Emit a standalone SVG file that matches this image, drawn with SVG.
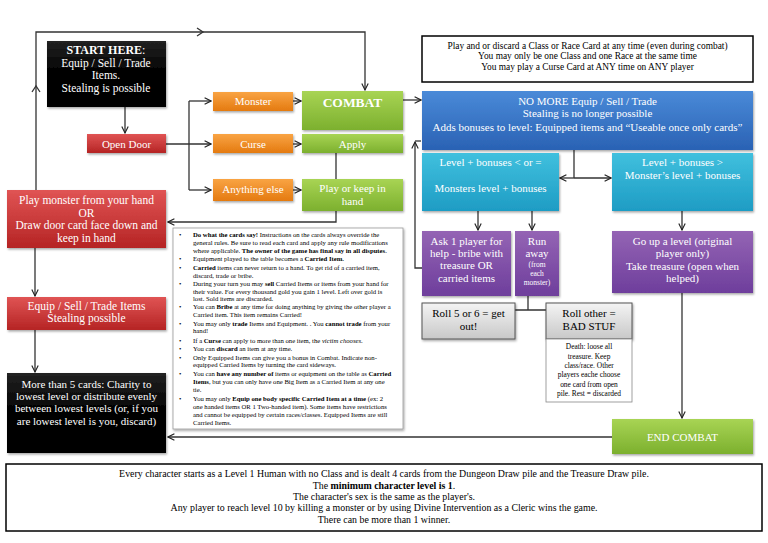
<svg xmlns="http://www.w3.org/2000/svg" width="768" height="543" viewBox="0 0 768 543">
<defs>
<linearGradient id="gBlack" x1="0" y1="0" x2="0" y2="1"><stop offset="0" stop-color="#222"/><stop offset="0.5" stop-color="#000"/><stop offset="1" stop-color="#000"/></linearGradient>
<linearGradient id="gRed" x1="0" y1="0" x2="0" y2="1"><stop offset="0" stop-color="#e05454"/><stop offset="1" stop-color="#b52424"/></linearGradient>
<linearGradient id="gOrange" x1="0" y1="0" x2="0" y2="1"><stop offset="0" stop-color="#f9a444"/><stop offset="1" stop-color="#e47a10"/></linearGradient>
<linearGradient id="gGreen" x1="0" y1="0" x2="0" y2="1"><stop offset="0" stop-color="#a8d454"/><stop offset="1" stop-color="#7cb02e"/></linearGradient>
<linearGradient id="gBlue" x1="0" y1="0" x2="0" y2="1"><stop offset="0" stop-color="#4a8ad8"/><stop offset="1" stop-color="#2a62b4"/></linearGradient>
<linearGradient id="gCyan" x1="0" y1="0" x2="0" y2="1"><stop offset="0" stop-color="#40c0de"/><stop offset="1" stop-color="#1e9cc4"/></linearGradient>
<linearGradient id="gPurple" x1="0" y1="0" x2="0" y2="1"><stop offset="0" stop-color="#9464b4"/><stop offset="1" stop-color="#6e3e9c"/></linearGradient>
<linearGradient id="gGray" x1="0" y1="0" x2="0" y2="1"><stop offset="0" stop-color="#f4f4f4"/><stop offset="1" stop-color="#c8c8c8"/></linearGradient>
<filter id="sh" x="-10%" y="-10%" width="125%" height="135%"><feDropShadow dx="1" dy="1.5" stdDeviation="1" flood-color="#000" flood-opacity="0.35"/></filter>
<marker id="ar" viewBox="0 0 10 10" refX="9" refY="5" markerWidth="8" markerHeight="8" markerUnits="userSpaceOnUse" orient="auto"><path d="M1,1 L9,5 L1,9" fill="none" stroke="#222" stroke-width="1.4"/></marker>
<style>
.ln{fill:none;stroke:#333;stroke-width:1.3}
.w{fill:#fff;font-family:"Liberation Serif","Times New Roman",serif;text-anchor:middle}
.k{fill:#000;font-family:"Liberation Serif","Times New Roman",serif}
.kc{fill:#000;font-family:"Liberation Serif","Times New Roman",serif;text-anchor:middle}
.b{font-weight:bold}
.bul{font-size:6.7px}
</style>
</defs>
<rect width="768" height="543" fill="#fff"/>

<g id="connectors">
<path class="ln" d="M125,107 V133" marker-end="url(#ar)"/>
<path class="ln" d="M166,144 H211" marker-end="url(#ar)"/>
<path class="ln" d="M189,101 V190"/>
<path class="ln" d="M189,101 H211" marker-end="url(#ar)"/>
<path class="ln" d="M189,190 H211" marker-end="url(#ar)"/>
<path class="ln" d="M293,101 H301" marker-end="url(#ar)"/>
<path class="ln" d="M293,144 H301" marker-end="url(#ar)"/>
<path class="ln" d="M293,190 H301" marker-end="url(#ar)"/>
<path class="ln" d="M336,153 V222 H168" marker-end="url(#ar)"/>
<path class="ln" d="M36,190 V32 H365 V90" marker-end="url(#ar)"/>
<path class="ln" d="M32,92 L36,86 L40,92"/>
<path class="ln" d="M197,28 L203,32 L197,36"/>
<path class="ln" d="M403,100 H421" marker-end="url(#ar)"/>
<path class="ln" d="M574,150 V178"/>
<path class="ln" d="M574,178 H560" marker-end="url(#ar)"/>
<path class="ln" d="M574,178 H611" marker-end="url(#ar)"/>
<path class="ln" d="M478,211 V230" marker-end="url(#ar)"/>
<path class="ln" d="M532,211 V230" marker-end="url(#ar)"/>
<path class="ln" d="M682,211 V230" marker-end="url(#ar)"/>
<path class="ln" d="M682,293 V418" marker-end="url(#ar)"/>
<path class="ln" d="M528,296 V310 M515,310 H546"/>
<path class="ln" d="M422,268 H415 V142" marker-end="url(#ar)"/>
<path class="ln" d="M415,141 H421"/>
<path class="ln" d="M612,437 H168" marker-end="url(#ar)"/>
<path class="ln" d="M35,248 V296" marker-end="url(#ar)"/>
<path class="ln" d="M35,330 V372" marker-end="url(#ar)"/>
</g>

<g id="start">
<rect x="47" y="41" width="119" height="66" fill="url(#gBlack)" filter="url(#sh)"/>
<text class="w" font-size="12" x="106" y="54"><tspan class="b">START HERE</tspan>:</text>
<text class="w" font-size="11.5" x="106" y="67">Equip / Sell / Trade</text>
<text class="w" font-size="11.5" x="106" y="79">Items.</text>
<text class="w" font-size="11.5" x="106" y="92">Stealing is possible</text>
</g>

<g id="opendoor">
<rect x="87" y="134" width="79" height="19" fill="url(#gRed)" filter="url(#sh)"/>
<text class="w" font-size="11" x="126.5" y="148">Open Door</text>
</g>

<g id="monster">
<rect x="213" y="92" width="80" height="19" fill="url(#gOrange)" filter="url(#sh)"/>
<text class="w" font-size="11" x="253" y="105">Monster</text>
</g>
<g id="curse">
<rect x="213" y="134" width="80" height="19" fill="url(#gOrange)" filter="url(#sh)"/>
<text class="w" font-size="11" x="253" y="148">Curse</text>
</g>
<g id="anything">
<rect x="213" y="179" width="80" height="22" fill="url(#gOrange)" filter="url(#sh)"/>
<text class="w" font-size="11" x="253" y="193">Anything else</text>
</g>

<g id="combat">
<rect x="302" y="91" width="101" height="39" fill="url(#gGreen)" filter="url(#sh)"/>
<text class="w b" font-size="13.5" x="352.5" y="107">COMBAT</text>
</g>
<g id="apply">
<rect x="302" y="134" width="101" height="19" fill="url(#gGreen)" filter="url(#sh)"/>
<text class="w" font-size="11" x="352.5" y="148">Apply</text>
</g>
<g id="playkeep">
<rect x="302" y="179" width="101" height="32" fill="url(#gGreen)" filter="url(#sh)"/>
<text class="w" font-size="11" x="352.5" y="192">Play or keep in</text>
<text class="w" font-size="11" x="352.5" y="205">hand</text>
</g>

<g id="anytime">
<rect x="422" y="36" width="331" height="46" fill="#fff" stroke="#000" stroke-width="1.5"/>
<text class="kc" font-size="9.4" x="587.5" y="49">Play and or discard a Class or Race Card at any time (even during combat)</text>
<text class="kc" font-size="9.4" x="587.5" y="59">You may only be one Class and one Race at the same time</text>
<text class="kc" font-size="9.4" x="587.5" y="70">You may play a Curse Card at ANY time on ANY player</text>
</g>

<g id="nomore">
<rect x="422" y="91" width="331" height="59" fill="url(#gBlue)" filter="url(#sh)"/>
<text class="w" font-size="11" x="587.5" y="105">NO MORE Equip / Sell / Trade</text>
<text class="w" font-size="11" x="587.5" y="117">Stealing is no longer possible</text>
<text class="w" font-size="11" x="587.5" y="131">Adds bonuses to level:  Equipped items and “Useable once only cards”</text>
</g>

<g id="levelle">
<rect x="422" y="153" width="137" height="58" fill="url(#gCyan)" filter="url(#sh)"/>
<text class="w" font-size="11" x="490.5" y="166">Level + bonuses &lt; or =</text>
<text class="w" font-size="11" x="490.5" y="192">Monsters level + bonuses</text>
</g>
<g id="levelgt">
<rect x="612" y="153" width="141" height="58" fill="url(#gCyan)" filter="url(#sh)"/>
<text class="w" font-size="11" x="682.5" y="166">Level + bonuses &gt;</text>
<text class="w" font-size="11" x="682.5" y="179">Monster’s level + bonuses</text>
</g>

<g id="ask">
<rect x="422" y="231" width="89" height="65" fill="url(#gPurple)" filter="url(#sh)"/>
<text class="w" font-size="11" x="466.5" y="245">Ask 1 player for</text>
<text class="w" font-size="11" x="466.5" y="257">help - bribe with</text>
<text class="w" font-size="11" x="466.5" y="269">treasure OR</text>
<text class="w" font-size="11" x="466.5" y="282">carried items</text>
</g>
<g id="runaway">
<rect x="515" y="231" width="44" height="65" fill="url(#gPurple)" filter="url(#sh)"/>
<text class="w" font-size="11" x="537" y="245">Run</text>
<text class="w" font-size="11" x="537" y="257">away</text>
<text class="w" font-size="7.5" x="537" y="267">(from</text>
<text class="w" font-size="7.5" x="537" y="276">each</text>
<text class="w" font-size="7.5" x="537" y="285">monster)</text>
</g>
<g id="goup">
<rect x="612" y="231" width="141" height="62" fill="url(#gPurple)" filter="url(#sh)"/>
<text class="w" font-size="11" x="682.5" y="245">Go up a level (original</text>
<text class="w" font-size="11" x="682.5" y="257">player only)</text>
<text class="w" font-size="11" x="682.5" y="270">Take treasure (open when</text>
<text class="w" font-size="11" x="682.5" y="282">helped)</text>
</g>

<g id="roll56">
<rect x="422" y="303" width="93" height="36" fill="url(#gGray)" stroke="#555" stroke-width="1" filter="url(#sh)"/>
<text class="kc" font-size="11" x="468.5" y="317">Roll 5 or 6 = get</text>
<text class="kc" font-size="11" x="468.5" y="330">out!</text>
</g>
<g id="rollother">
<rect x="546" y="303" width="86" height="36" fill="url(#gGray)" stroke="#555" stroke-width="1" filter="url(#sh)"/>
<text class="kc" font-size="11" x="589" y="317">Roll other =</text>
<text class="kc" font-size="11" x="589" y="330">BAD STUF</text>
</g>
<g id="death">
<rect x="546" y="339" width="86" height="63" fill="#fff" stroke="#888" stroke-width="0.8"/>
<text class="kc" font-size="7.4" x="589" y="349">Death: loose all</text>
<text class="kc" font-size="7.4" x="589" y="359">treasure. Keep</text>
<text class="kc" font-size="7.4" x="589" y="368">class/race. Other</text>
<text class="kc" font-size="7.4" x="589" y="377">players eache choose</text>
<text class="kc" font-size="7.4" x="589" y="387">one card from open</text>
<text class="kc" font-size="7.4" x="589" y="396">pile. Rest = discarded</text>
</g>

<g id="endcombat">
<rect x="612" y="419" width="141" height="35" fill="url(#gGreen)" filter="url(#sh)"/>
<text class="w" font-size="11" x="682.5" y="441">END COMBAT</text>
</g>

<g id="playmonster">
<rect x="7" y="190" width="159" height="58" fill="url(#gRed)" filter="url(#sh)"/>
<text class="w" font-size="11.5" x="86.5" y="204">Play monster from your hand</text>
<text class="w" font-size="11.5" x="86.5" y="217">OR</text>
<text class="w" font-size="11.5" x="86.5" y="229">Draw door card face down and</text>
<text class="w" font-size="11.5" x="86.5" y="242">keep in hand</text>
</g>
<g id="equip">
<rect x="7" y="297" width="159" height="33" fill="url(#gRed)" filter="url(#sh)"/>
<text class="w" font-size="11.5" x="86.5" y="310">Equip / Sell / Trade Items</text>
<text class="w" font-size="11.5" x="86.5" y="322">Stealing possible</text>
</g>
<g id="charity">
<rect x="7" y="373" width="159" height="80" fill="url(#gBlack)" filter="url(#sh)"/>
<text class="w" font-size="11" x="86.5" y="388">More than 5 cards: Charity to</text>
<text class="w" font-size="11" x="86.5" y="400">lowest level or distribute evenly</text>
<text class="w" font-size="11" x="86.5" y="412">between lowest levels (or, if you</text>
<text class="w" font-size="11" x="86.5" y="425">are lowest level is you, discard)</text>
</g>

<g id="rules">
<rect x="173" y="228" width="230" height="201" fill="#fff" stroke="#999" stroke-width="0.8" filter="url(#sh)"/>
<g class="k bul">
<text x="179" y="237">•</text><text x="179" y="261">•</text><text x="179" y="270">•</text><text x="179" y="286">•</text><text x="179" y="309">•</text><text x="179" y="326">•</text><text x="179" y="343">•</text><text x="179" y="351">•</text><text x="179" y="360">•</text><text x="179" y="376">•</text><text x="179" y="401">•</text>
<text x="193" y="237"><tspan class="b">Do what the cards say!</tspan> Instructions on the cards always override the</text>
<text x="193" y="245">general rules. Be sure to read each card and apply any rule modifications</text>
<text x="193" y="253">where applicable. <tspan class="b">The owner of the game has final say in all disputes</tspan>.</text>
<text x="193" y="261">Equipment played to the table becomes a <tspan class="b">Carried Item.</tspan></text>
<text x="193" y="270"><tspan class="b">Carried</tspan> items can never return to a hand. To get rid of a carried item,</text>
<text x="193" y="278">discard, trade or bribe.</text>
<text x="193" y="286">During your turn you may <tspan class="b">sell</tspan> Carried Items or items from your hand for</text>
<text x="193" y="294">their value. For every thousand gold you gain 1 level. Left over gold is</text>
<text x="193" y="301">lost. Sold items are discarded.</text>
<text x="193" y="309">You can <tspan class="b">Bribe</tspan> at any time for doing anything by giving the other player a</text>
<text x="193" y="317">Carried item. This item remains Carried!</text>
<text x="193" y="326">You may only <tspan class="b">trade</tspan> Items and Equipment. . You <tspan class="b">cannot trade</tspan> from your</text>
<text x="193" y="333">hand!</text>
<text x="193" y="343">If a <tspan class="b">Curse</tspan> can apply to more than one item, the <tspan font-style="italic">victim chooses</tspan>.</text>
<text x="193" y="351">You can <tspan class="b">discard</tspan> an item at any time.</text>
<text x="193" y="360">Only Equipped Items can give you a bonus in Combat. Indicate non-</text>
<text x="193" y="367">equipped Carried Items by turning the card sideways.</text>
<text x="193" y="376">You can <tspan class="b">have any number of</tspan> items or equipment on the table as <tspan class="b">Carried</tspan></text>
<text x="193" y="384"><tspan class="b">Items</tspan>, but you can only have one Big Item as a Carried Item at any one</text>
<text x="193" y="392">tie.</text>
<text x="193" y="401">You may only <tspan class="b">Equip one body specific  Carried Item at a time</tspan> (ex: 2</text>
<text x="193" y="409">one handed items OR 1 Two-handed item). Some items have restrictions</text>
<text x="193" y="417">and cannot be equipped by certain races/classes. Equipped Items are still</text>
<text x="193" y="425">Carried Items.</text>
</g>
</g>

<g id="general">
<rect x="6" y="464" width="756" height="67" fill="#fff" stroke="#000" stroke-width="1.5"/>
<text class="kc" font-size="9.9" x="384" y="477">Every character starts as a Level 1 Human with no Class and is dealt 4 cards from the Dungeon Draw pile and the Treasure Draw pile.</text>
<text class="kc" font-size="9.9" x="384" y="489">The <tspan class="b">minimum character level is 1</tspan>.</text>
<text class="kc" font-size="9.9" x="384" y="500">The character's sex is the same as the player's.</text>
<text class="kc" font-size="9.9" x="384" y="511">Any player to reach level 10 by killing a monster or by using Divine Intervention as a Cleric wins the game.</text>
<text class="kc" font-size="9.9" x="384" y="523">There can be more than 1 winner.</text>
</g>
</svg>
